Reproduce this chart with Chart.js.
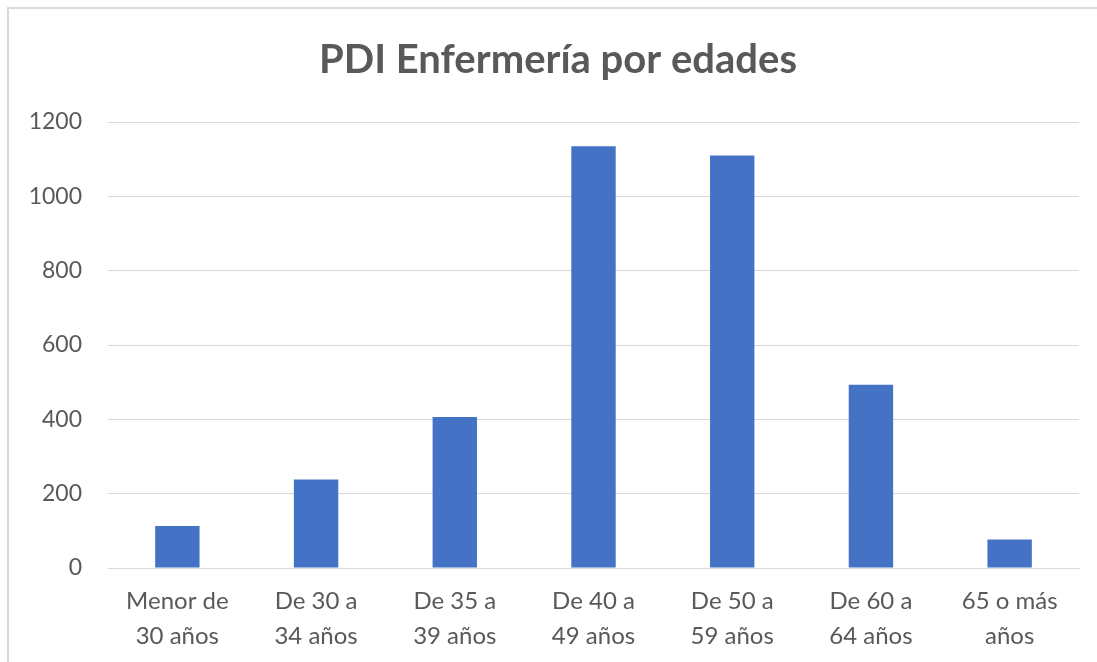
<!DOCTYPE html>
<html>
<head>
<meta charset="utf-8">
<script src="https://cdn.jsdelivr.net/npm/chart.js@4"></script>
<style>
  body { margin: 0; background: #fff; overflow: hidden; }
  #wrap {
    position: absolute; left: 7px; top: 7px;
    width: 1098px; height: 655px;
    border-left: 2px solid #d9d9d9; border-top: 2px solid #d9d9d9;
  }
</style>
</head>
<body>
<div id="wrap"><canvas id="edades"></canvas></div>
<script>
var categorias = [
    ['Menor de', '30 años'],
    ['De 30 a', '34 años'],
    ['De 35 a', '39 años'],
    ['De 40 a', '49 años'],
    ['De 50 a', '59 años'],
    ['De 60 a', '64 años'],
    ['65 o más', 'años']
];
var valores = [113, 238, 406, 1135, 1110, 493, 77];
var yTicks = [0, 200, 400, 600, 800, 1000, 1200];

var gris = '#595959';
var ctx = document.getElementById('edades');

var chart = new Chart(ctx, {
    type: 'bar',
    data: {
	labels: categorias,
	datasets: [{
	    label: 'PDI',
	    data: valores,
	    backgroundColor: '#4472C4',
	    borderWidth: 0,
	    categoryPercentage: 1,
	    barPercentage: 0.32
	}]
    },
    options: {
	animation: false,
	responsive: true,
	maintainAspectRatio: false,
	layout: { padding: 0 },
	scales: {
	    x: {
		grid: { display: false, drawTicks: false },
		border: { display: true, color: '#d9d9d9', width: 1 },
		ticks: {
		    color: gris,
		    maxRotation: 0,
		    autoSkip: false,
		    padding: 16,
		    font: { family: 'Lato', size: 24, lineHeight: 1.45 }
		},
		afterFit: function (s) { s.height = 96; }
	    },
	    y: {
		min: 0,
		max: 1200,
		grid: { color: '#d9d9d9', drawTicks: false },
		border: { display: false },
		afterBuildTicks: function (s) {
		    s.ticks = yTicks.map(v => ({ value: v }));
		},
		ticks: {
		    color: gris,
		    padding: 26,
		    font: { family: 'Lato', size: 23 },
		    callback: function (v) { return String(v); }
		},
		afterFit: function (s) { s.width = 99; }
	    },
	    // eje vacio a la derecha para dejar el margen del area de trazado
	    margen: {
		position: 'right',
		grid: { display: false, drawTicks: false },
		border: { display: false },
		ticks: { display: false },
		afterFit: function (s) { s.width = 28; }
	    }
	},
	plugins: {
	    legend: { display: false },
	    tooltip: { enabled: false },
	    title: {
		display: true,
		text: 'PDI Enfermería por edades',
		color: gris,
		font: { family: 'Lato', size: 40, weight: 'bold', lineHeight: 1.2 },
		padding: { top: 27, bottom: 38 }
	    }
	}
    }
});
</script>
</body>
</html>
